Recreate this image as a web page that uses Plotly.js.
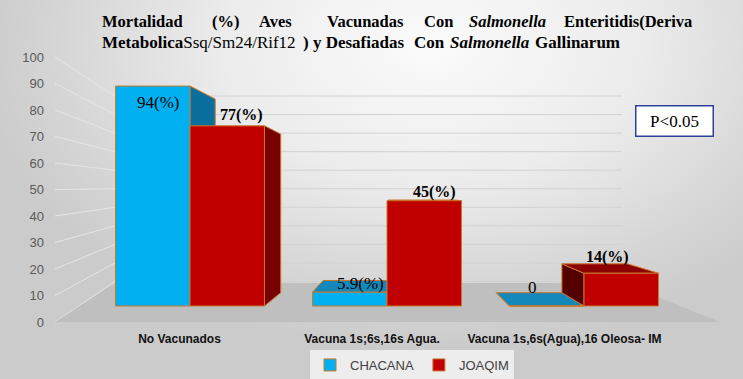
<!DOCTYPE html>
<html>
<head>
<meta charset="utf-8">
<script src="https://cdn.plot.ly/plotly-3.0.1.min.js"></script>
<style>
  html, body { margin: 0; padding: 0; }
  body { width: 743px; height: 379px; overflow: hidden;
    background: radial-gradient(ellipse 62% 80% at 58% 12%, #fbfbfb 0%, #ececec 45%, #d6d6d6 80%, #cbcbcb 100%); }
  #chart { width: 743px; height: 379px; }
</style>
</head>
<body>
<div id="chart"></div>
<script>
// ---------------- data ----------------
const categories = ['No Vacunados', 'Vacuna 1s;6s,16s Agua.', 'Vacuna 1s,6s(Agua),16 Oleosa- IM'];
const seriesNames = ['CHACANA', 'JOAQIM'];
const chacana = [94, 5.9, 0];
const joaqim = [77, 45, 14];
const chacanaLabels = ['94(%)', '5.9(%)', '0'];
const joaqimLabels = ['77(%)', '45(%)', '14(%)'];
const yTicks = [0, 10, 20, 30, 40, 50, 60, 70, 80, 90, 100];

// ---------------- geometry / style ----------------
const W = 743, H = 379, L = 45, R = 23, T = 57, B = 57;
const pw = W - L - R, ph = H - T - B;
const pxX = x => (x - L) / pw;
const pxY = y => (H - B - y) / ph;

const barW = 0.378;
const f = 0.12, vpX = 1.066, vpY = 47.44;       // perspective vanishing point (x2/y2 units)
const outline = '#c8782a';
const cyan = {front: '#00b0f0', side: '#0a6f9c', top: '#1488ba'};
const red = {front: '#c00000', side: '#780000', top: '#8c0000', left: '#540000'};

const shapes = [];
// back-wall and side-wall grid
yTicks.forEach(v => {
  const yb = 281.5 - 1.855 * v, yl = 322 - 2.65 * v;
  shapes.push({type: 'line', xref: 'paper', yref: 'paper', layer: 'below',
    x0: pxX(115), x1: pxX(622), y0: pxY(yb), y1: pxY(yb), line: {color: '#d2d2d2', width: 1}});
  shapes.push({type: 'line', xref: 'paper', yref: 'paper', layer: 'below',
    x0: pxX(55), x1: pxX(115), y0: pxY(yl), y1: pxY(yb), line: {color: '#e6e6e6', width: 1}});
});
// floor
shapes.push({type: 'path', xref: 'paper', yref: 'paper', layer: 'below',
  path: `M${pxX(55)},${pxY(322)} L${pxX(720)},${pxY(322)} L${pxX(623)},${pxY(283)} L${pxX(115)},${pxY(283)} Z`,
  fillcolor: '#bfbfbf', line: {width: 0}});

const back = (x, y) => [x + f * (vpX - x), y + f * (vpY - y)];
const poly = pts => 'M' + pts.map(p => p[0] + ',' + p[1]).join(' L') + ' Z';
function faces(xl, xr, v, col) {
  const out = [];
  const add = (pts, c) => out.push({type: 'path', xref: 'x2', yref: 'y2', layer: 'below',
    path: poly(pts), fillcolor: c, line: {color: outline, width: 1}});
  if (xr < vpX) add([[xr, 0], [xr, v], back(xr, v), back(xr, 0)], col.side);
  if (xl > vpX) add([[xl, 0], [xl, v], back(xl, v), back(xl, 0)], col.left || col.side);
  if (v < vpY) add([[xl, v], [xr, v], back(xr, v), back(xl, v)], col.top);
  return out;
}
categories.forEach((c, i) => { shapes.push(...faces(i - barW, i, chacana[i], cyan)); });
categories.forEach((c, i) => { shapes.push(...faces(i, i + barW, joaqim[i], red)); });

// ---------------- annotations ----------------
const annotations = [];
const serif = 'Liberation Serif, Times New Roman, serif';
const line1 = ['<b>Mortalidad</b>', '<b>(%)</b>', '<b>Aves</b>', '<b>Vacunadas</b>', '<b>Con</b>',
  '<b><i>Salmonella</i></b>', '<b>Enteritidis(Deriva</b>'];
const line1X = [100, 210, 257, 325, 422, 467, 562];
const line2 = ['<b>Metabolica</b>Ssq/Sm24/Rif12', '<b>) y Desafiadas</b>', '<b>Con</b>',
  '<b><i>Salmonella</i></b>', '<b>Gallinarum</b>'];
const line2X = [100, 301, 412, 448, 533];
line1.forEach((w, k) => annotations.push({xref: 'paper', yref: 'paper', x: pxX(line1X[k]), y: pxY(21.7),
  xanchor: 'left', yanchor: 'middle', showarrow: false, text: w,
  font: {family: serif, size: 16.5, color: '#000'}}));
line2.forEach((w, k) => annotations.push({xref: 'paper', yref: 'paper', x: pxX(line2X[k]), y: pxY(42),
  xanchor: 'left', yanchor: 'middle', showarrow: false, text: w,
  font: {family: serif, size: 17, color: '#000'}}));

// value labels
const cShift = [[5, -16], [11, 9], [-14, 19]];
const jShift = [[14, 11], [10, 9], [-14, 16]];
categories.forEach((c, i) => {
  annotations.push({xref: 'x2', yref: 'y2', x: i - barW / 2, y: chacana[i], xanchor: 'center', yanchor: 'middle',
    xshift: cShift[i][0], yshift: cShift[i][1], showarrow: false, text: chacanaLabels[i],
    font: {family: serif, size: 17, color: '#000'}});
  annotations.push({xref: 'x2', yref: 'y2', x: i + barW / 2, y: joaqim[i], xanchor: 'center', yanchor: 'middle',
    xshift: jShift[i][0], yshift: jShift[i][1], showarrow: false, text: joaqimLabels[i],
    font: {family: serif, size: 16, color: '#000', weight: 'bold'}});
});
// p-value box
annotations.push({xref: 'paper', yref: 'paper', x: pxX(674), y: pxY(121.5), xanchor: 'center', yanchor: 'middle',
  showarrow: false, text: 'P&lt;0.05', width: 76, height: 29, borderpad: 0,
  bgcolor: '#ffffff', bordercolor: '#2e3f9e', borderwidth: 1.5,
  font: {family: serif, size: 17, color: '#000'}});

// ---------------- traces ----------------
const traces = [
  {type: 'scatter', x: categories, y: categories.map(() => null), mode: 'markers',
   xaxis: 'x', yaxis: 'y', showlegend: false, hoverinfo: 'skip', marker: {opacity: 0}},
  {type: 'bar', name: seriesNames[0], x: categories.map((c, i) => i), y: chacana, xaxis: 'x2', yaxis: 'y2',
   offset: -barW, width: barW, marker: {color: cyan.front, line: {color: outline, width: 1}}},
  {type: 'bar', name: seriesNames[1], x: categories.map((c, i) => i), y: joaqim, xaxis: 'x2', yaxis: 'y2',
   offset: 0, width: barW, marker: {color: red.front, line: {color: outline, width: 1}}}
];

const layout = {
  width: W, height: H,
  margin: {l: L, r: R, t: T, b: B, autoexpand: false},
  paper_bgcolor: 'rgba(0,0,0,0)', plot_bgcolor: 'rgba(0,0,0,0)',
  barmode: 'overlay', hovermode: false,
  showlegend: true,
  legend: {orientation: 'h', xref: 'container', yref: 'container', x: 412 / W, xanchor: 'center',
    y: 1 - 350 / H, yanchor: 'top', bgcolor: '#ededed', itemwidth: 30, traceorder: 'normal',
    font: {family: 'Liberation Sans, Arial, sans-serif', size: 13, color: '#404040'}},
  xaxis: {type: 'category', range: [-(179.5 - L) / 192.5, (W - R - 179.5) / 192.5], showgrid: false,
    zeroline: false, showline: false, ticks: '', fixedrange: true, ticklabelstandoff: 8,
    tickfont: {family: 'Liberation Sans, Arial, sans-serif', size: 12, color: '#111', weight: 'bold'}},
  yaxis: {range: [0, 100], tickvals: yTicks, showgrid: false, zeroline: false, showline: false, ticks: '',
    fixedrange: true, tickfont: {family: 'Liberation Sans, Arial, sans-serif', size: 13, color: '#595959'}},
  xaxis2: {overlaying: 'x', range: [-(190 - L) / 197, (W - R - 190) / 197], visible: false, fixedrange: true},
  yaxis2: {overlaying: 'y', range: [-16 / 2.34, -16 / 2.34 + ph / 2.34], visible: false, fixedrange: true},
  shapes: shapes,
  annotations: annotations
};

Plotly.newPlot('chart', traces, layout, {staticPlot: true, displayModeBar: false});
</script>
</body>
</html>
